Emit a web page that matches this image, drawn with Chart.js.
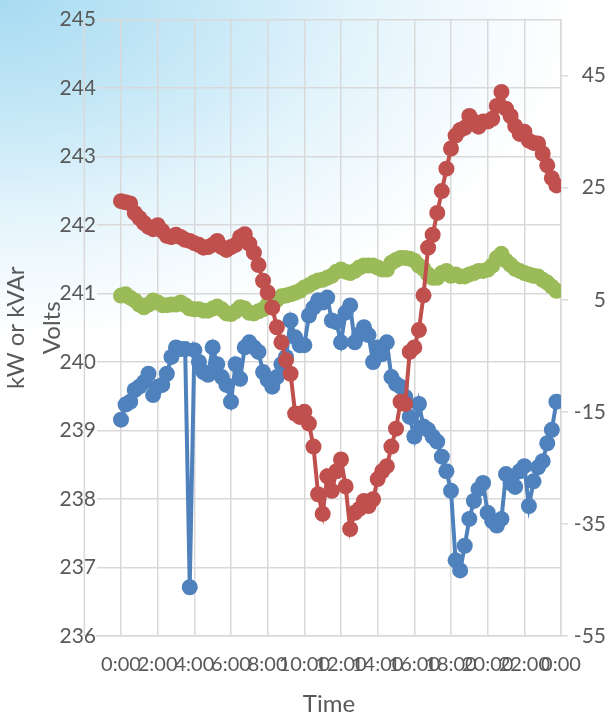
<!DOCTYPE html>
<html>
<head>
<meta charset="utf-8">
<script src="https://cdn.jsdelivr.net/npm/chart.js@4.4.1/dist/chart.umd.min.js"></script>
<style>
  html, body { margin: 0; padding: 0; }
  #wrap {
    width: 616px;
    height: 721px;
    background: #ffffff radial-gradient(ellipse 580px 340px at 0 0, #a7dbf1 0%, #c6e8f7 35%, #e6f5fc 65%, #ffffff 100%) no-repeat;
  }
</style>
</head>
<body>
<div id="wrap"><canvas id="chart" width="616" height="721"></canvas></div>
<script>
// 15 minute readings over one day
const times = ['0:00','0:15','0:30','0:45','1:00','1:15','1:30','1:45','2:00','2:15','2:30','2:45',
  '3:00','3:15','3:30','3:45','4:00','4:15','4:30','4:45','5:00','5:15','5:30','5:45',
  '6:00','6:15','6:30','6:45','7:00','7:15','7:30','7:45','8:00','8:15','8:30','8:45',
  '9:00','9:15','9:30','9:45','10:00','10:15','10:30','10:45','11:00','11:15','11:30','11:45',
  '12:00','12:15','12:30','12:45','13:00','13:15','13:30','13:45','14:00','14:15','14:30','14:45',
  '15:00','15:15','15:30','15:45','16:00','16:15','16:30','16:45','17:00','17:15','17:30','17:45',
  '18:00','18:15','18:30','18:45','19:00','19:15','19:30','19:45','20:00','20:15','20:30','20:45',
  '21:00','21:15','21:30','21:45','22:00','22:15','22:30','22:45','23:00','23:15','23:30','23:45'];

// kW (red, right axis)
const kW = [22.6,22.4,22.2,20.5,19.6,18.7,18.0,17.6,18.3,17.3,
  16.4,16.2,16.6,16.2,15.7,15.5,15.1,14.8,14.3,14.4,
  14.8,15.5,14.4,13.9,14.4,14.8,16.2,16.7,15.0,13.4,
  11.2,8.4,6.3,3.6,0.1,-2.6,-5.8,-8.2,-15.3,-15.9,
  -15.0,-17.1,-21.2,-29.7,-33.2,-26.5,-29.1,-25.6,-23.5,-28.3,
  -35.9,-33.0,-32.3,-30.9,-31.8,-30.6,-27.0,-25.6,-24.7,-21.2,
  -18.0,-13.2,-13.6,-4.3,-3.5,-0.4,5.8,14.3,16.6,20.5,
  24.4,28.4,32.0,34.3,35.3,35.7,37.8,36.8,35.9,36.8,
  36.8,37.3,39.6,42.1,39.1,37.8,36.0,34.6,35.0,33.4,
  33.0,32.9,31.1,29.0,26.7,25.4];

// kVAr (blue, right axis)
const kVAr = [-16.4,-13.7,-13.2,-11.1,-10.5,-9.7,-8.2,-12.0,-10.5,-10.2,
  -8.2,-5.2,-3.5,-3.8,-3.8,-46.3,-4.0,-6.1,-7.9,-8.4,
  -3.5,-6.5,-8.8,-10.2,-13.2,-6.5,-9.1,-3.5,-2.6,-3.5,
  -4.3,-7.9,-9.3,-10.5,-8.8,-6.5,-5.2,1.3,-1.7,-3.1,
  -3.1,2.2,3.6,4.9,4.5,5.4,1.3,1.0,-2.6,2.7,
  4.0,-2.6,-1.2,0.1,-1.3,-6.1,-3.5,-4.7,-2.6,-8.8,
  -10.0,-10.5,-12.3,-15.9,-19.4,-13.6,-17.6,-18.2,-19.4,-20.3,
  -23.0,-25.6,-29.1,-41.5,-43.3,-38.9,-34.1,-30.9,-28.8,-27.7,
  -33.0,-34.5,-35.3,-34.1,-26.1,-27.7,-28.4,-25.6,-24.7,-31.8,
  -27.4,-24.9,-23.8,-20.6,-18.2,-13.2];

// Volts (green, left axis)
const volts = [240.97,240.99,240.94,240.90,240.84,240.80,240.84,240.90,240.87,240.83,
  240.83,240.84,240.84,240.87,240.83,240.78,240.77,240.77,240.75,240.75,
  240.78,240.81,240.77,240.71,240.70,240.74,240.80,240.78,240.72,240.71,
  240.74,240.77,240.84,240.88,240.91,240.96,240.97,240.99,241.01,241.04,
  241.09,241.12,241.16,241.19,241.20,241.23,241.26,241.32,241.35,241.32,
  241.30,241.33,241.38,241.41,241.41,241.41,241.38,241.35,241.35,241.45,
  241.49,241.52,241.52,241.51,241.48,241.41,241.36,241.28,241.23,241.23,
  241.30,241.33,241.26,241.28,241.25,241.25,241.28,241.30,241.33,241.33,
  241.35,241.41,241.52,241.58,241.48,241.42,241.36,241.33,241.30,241.28,
  241.26,241.25,241.20,241.16,241.10,241.04];

const timeTicks = [0, 2, 4, 6, 8, 10, 12, 14, 16, 18, 20, 22, 24];
const timeTickLabels = ['0:00','2:00','4:00','6:00','8:00','10:00','12:00','14:00','16:00','18:00','20:00','22:00','0:00'];
const voltTicks = [236, 237, 238, 239, 240, 241, 242, 243, 244, 245];
const powerTicks = [-55, -35, -15, 5, 25, 45];

const gridColor = '#d9d9d9';
const textColor = '#595959';
const fontName = 'Lato';

function toHours(t) {
    const parts = t.split(':');
    return Number(parts[0]) + Number(parts[1]) / 60;
}

function points(values) {
    return times.map((t, i) => ({ x: toHours(t), y: values[i] }));
}

function makeDataset(label, values, color, axis) {
    return {
        label: label,
        data: points(values),
        yAxisID: axis,
        borderColor: color,
        backgroundColor: color,
        borderWidth: 4,
        pointRadius: 8,
        pointHoverRadius: 8,
        pointBorderWidth: 0,
        tension: 0
    };
}

// extra vertical grid line that Excel draws left of the first time tick
const leftLine = {
    id: 'leftLine',
    beforeDatasetsDraw(chart) {
        const ctx = chart.ctx;
        const x = chart.scales.x.getPixelForValue(-2);
        ctx.save();
        ctx.strokeStyle = gridColor;
        ctx.lineWidth = 1.5;
        ctx.beginPath();
        ctx.moveTo(x, chart.chartArea.top);
        ctx.lineTo(x, chart.chartArea.bottom);
        ctx.stroke();
        ctx.restore();
    }
};

new Chart(document.getElementById('chart'), {
    type: 'line',
    data: {
        datasets: [
            makeDataset('kW', kW, '#c0504d', 'y2'),
            makeDataset('Volts', volts, '#9bbb59', 'y'),
            makeDataset('kVAr', kVAr, '#4f81bd', 'y2')
        ]
    },
    options: {
        responsive: false,
        animation: false,
        layout: { padding: { top: 15, right: 10, bottom: 0, left: 0 } },
        plugins: {
            legend: { display: false },
            tooltip: { enabled: false }
        },
        scales: {
            x: {
                type: 'linear',
                min: -1.309,
                max: 24,
                afterBuildTicks: s => { s.ticks = timeTicks.map(v => ({ value: v })); },
                afterFit: s => { s.height = 85; },
                grid: { color: gridColor, lineWidth: 1.5, drawTicks: false },
                border: { color: gridColor, width: 1.5 },
                ticks: {
                    autoSkip: false,
                    maxRotation: 0,
                    minRotation: 0,
                    padding: 17,
                    color: textColor,
                    font: { family: fontName, size: 20 },
                    callback: (v, i) => timeTickLabels[i]
                },
                title: {
                    display: true,
                    text: 'Time',
                    color: textColor,
                    font: { family: fontName, size: 24 },
                    padding: { top: 0, bottom: 2 }
                }
            },
            y: {
                position: 'left',
                min: 236,
                max: 245,
                afterBuildTicks: s => { s.ticks = voltTicks.map(v => ({ value: v })); },
                afterFit: s => { s.width = 97; },
                grid: { color: gridColor, lineWidth: 1.5, drawTicks: false },
                border: { display: false },
                ticks: {
                    padding: 1,
                    color: textColor,
                    font: { family: fontName, size: 21 }
                },
                title: {
                    display: true,
                    text: ['kW or kVAr', 'Volts'],
                    color: textColor,
                    font: { family: fontName, size: 24, lineHeight: 1.5 },
                    padding: { top: -2, bottom: 0 }
                }
            },
            y2: {
                position: 'right',
                min: -55,
                max: 55,
                afterBuildTicks: s => { s.ticks = powerTicks.map(v => ({ value: v })); },
                afterFit: s => { s.width = 45; },
                grid: { drawOnChartArea: false, color: gridColor, lineWidth: 1.5, tickLength: 7 },
                border: { color: gridColor, width: 1.5 },
                ticks: {
                    crossAlign: 'far',
                    padding: 7,
                    color: textColor,
                    font: { family: fontName, size: 21 }
                }
            }
        }
    },
    plugins: [leftLine]
});
</script>
</body>
</html>
